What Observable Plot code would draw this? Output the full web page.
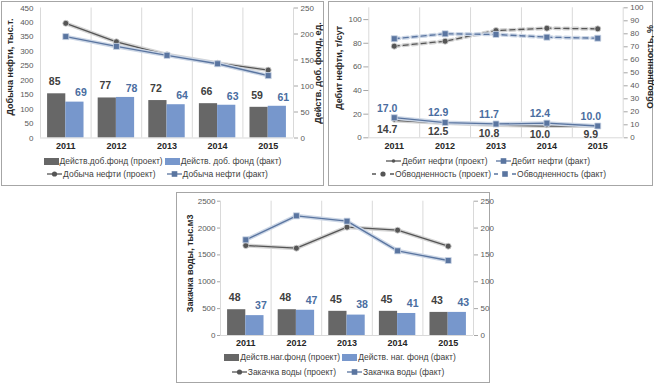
<!DOCTYPE html>
<html><head><meta charset="utf-8">
<script src="https://cdn.jsdelivr.net/npm/d3@7"></script>
<script src="https://cdn.jsdelivr.net/npm/@observablehq/plot@0.6"></script>
<style>
body{margin:0;background:#fff;font-family:"Liberation Sans",Arial,sans-serif;}
#root{position:relative;width:654px;height:385px;overflow:hidden;background:#fff}
.frame{position:absolute;border:1px solid #a6a6a6;box-sizing:border-box;}
.legend{position:absolute;display:flex;justify-content:center;align-items:center;font-size:8.5px;color:#404040;white-space:nowrap;height:10px;line-height:10px}
.legend .it{display:flex;align-items:center}
.legend svg{display:block}
</style></head>
<body><div id="root"></div>
<script>
// ---------- data ----------
const years = [2011, 2012, 2013, 2014, 2015];
// chart 1
const fundPlan1 = [85, 77, 72, 66, 59];
const fundFact1 = [69, 78, 64, 63, 61];
const oilPlan = [397, 333, 288, 259, 235];
const oilFact = [351, 317, 286, 257, 216];
const leftTicks1 = [0, 50, 100, 150, 200, 250, 300, 350, 400, 450];
const rightTicks1 = [0, 50, 100, 150, 200, 250];
// chart 2
const ratePlan = [14.7, 12.5, 10.8, 10.0, 9.9];
const rateFact = [17.0, 12.9, 11.7, 12.4, 10.0];
const cutPlan = [70.5, 74.3, 82.5, 84.3, 83.8];
const cutFact = [76.2, 80.0, 79.5, 77.4, 76.6];
const leftTicks2 = [0, 20, 40, 60, 80, 100];
const rightTicks2 = [0, 10, 20, 30, 40, 50, 60, 70, 80, 90, 100];
// chart 3
const fundPlan3 = [48, 48, 45, 45, 43];
const fundFact3 = [37, 47, 38, 41, 43];
const injPlan = [1675, 1626, 2017, 1961, 1663];
const injFact = [1781, 2228, 2128, 1576, 1396];
const leftTicks3 = [0, 500, 1000, 1500, 2000, 2500];
const rightTicks3 = [0, 50, 100, 150, 200, 250];

// ---------- style ----------
const C = {
  barPlan: "#676767", barFact: "#7797cc",
  linePlan: "#555555", lineFact: "#5a75a0",
  haloPlan: "#d4d4d4", haloFact: "#cdd7e6",
  lblPlan: "#404040", lblFact: "#4a6da0",
  grid: "#d9d9d9", axis: "#a6a6a6", tick: "#595959", title: "#262626"
};
const FONT = "Liberation Sans, Arial, sans-serif";
const BW = 0.36; // bar width in years
const root = document.getElementById("root");

function place(el, left, top, parent = root) {
  el.style.position = "absolute";
  el.style.left = left + "px";
  el.style.top = top + "px";
  el.style.maxWidth = "none";
  el.style.overflow = "visible";
  parent.appendChild(el);
}
function frame(l, t, w, h) {
  const d = document.createElement("div");
  d.className = "frame";
  Object.assign(d.style, {left: l + "px", top: t + "px", width: w + "px", height: h + "px"});
  root.appendChild(d);
}
function grid(extentLast) {
  return Plot.ruleX(years.map(y => y - 0.5).concat(extentLast), {stroke: C.grid, strokeWidth: 1});
}
function xAxis(pad) {
  return Plot.axisX(years, {anchor: "bottom", tickSize: 0, tickPadding: pad, tickFormat: d => String(d),
    fontWeight: "bold", fontSize: 9, fill: C.title, label: null});
}
function leftAxis(ticks, size) {
  return Plot.axisY(ticks, {anchor: "left", tickSize: size, tickPadding: size ? 2 : 7, fontSize: 8,
    fill: C.tick, stroke: C.axis, label: null, tickFormat: d => String(d)});
}
function rightAxis(ticks, k) {
  return Plot.axisY(ticks.map(v => v * k), {anchor: "right", tickSize: 4, tickPadding: 3, fontSize: 8,
    fill: C.tick, stroke: C.axis, label: null, tickFormat: d => String(Math.round(d / k))});
}
function yTitle(text, anchor, dx, dy) {
  return Plot.text([text], {frameAnchor: anchor, textAnchor: "middle", lineAnchor: "middle", rotate: -90, dx, dy,
    fontWeight: "bold", fontSize: 9, fill: C.title});
}
function lineSet(rows, key, stroke, halo, symbol, r, dash) {
  const o = {x: "year", y: key};
  return [
    Plot.line(rows, {...o, stroke: halo, strokeWidth: 4, strokeDasharray: dash}),
    Plot.line(rows, {...o, stroke, strokeWidth: 1.3, strokeDasharray: dash}),
    Plot.dot(rows, {...o, symbol, r, fill: stroke, stroke: halo, strokeWidth: 0.8})
  ];
}
function barSet(rows, planKey, factKey, k, dyP, dyF) {
  return [
    Plot.rectY(rows, {x1: d => d.year - BW, x2: "year", y1: 0, y2: d => d[planKey] * k, fill: C.barPlan}),
    Plot.rectY(rows, {x1: "year", x2: d => d.year + BW, y1: 0, y2: d => d[factKey] * k, fill: C.barFact}),
    Plot.text(rows, {x: d => d.year - BW / 2, y: d => d[planKey] * k, text: d => String(d[planKey]),
      dy: dyP, dx: -2, fontWeight: "bold", fontSize: 10.5, fill: C.lblPlan}),
    Plot.text(rows, {x: d => d.year + BW / 2, y: d => d[factKey] * k, text: d => String(d[factKey]),
      dy: dyF, dx: 6, fontWeight: "bold", fontSize: 10.5, fill: C.lblFact})
  ];
}
const baseStyle = {fontFamily: FONT, background: "transparent", overflow: "visible", color: C.tick};

// legend helpers
function swRect(color) {
  return `<svg width="15" height="7"><rect width="15" height="7" fill="${color}"/></svg>`;
}
function swLine(color, symbol, dashed) {
  const w = dashed ? 22 : 15;
  const ln = `<line x1="0" x2="${w}" y1="4" y2="4" stroke="${color}" stroke-width="1.3" ${dashed ? 'stroke-dasharray="4,5"' : ""}/>`;
  const m = symbol === "circle"
    ? `<circle cx="${w / 2}" cy="4" r="2.6" fill="${color}"/>`
    : symbol === "dotsmall" ? `<circle cx="${w / 2}" cy="4" r="1.8" fill="${color}"/>`
    : `<rect x="${w / 2 - 2.8}" y="1.2" width="5.6" height="5.6" fill="${color}"/>`;
  return `<svg width="${w}" height="8">${ln}${m}</svg>`;
}
function legendRow(items, left, width, cy, gap) {
  const d = document.createElement("div");
  d.className = "legend";
  Object.assign(d.style, {left: left + "px", width: width + "px", top: (cy - 5) + "px", gap: gap + "px"});
  d.innerHTML = items.map(([sw, label]) => `<div class="it">${sw}<span style="margin-left:1px">${label}</span></div>`).join("");
  root.appendChild(d);
}

// ---------- chart 1 ----------
{
  const k = 450 / 250;
  const rows = years.map((year, i) => ({year, plan: fundPlan1[i], fact: fundFact1[i], oilPlan: oilPlan[i], oilFact: oilFact[i]}));
  frame(1, 1, 323, 185);
  const svg = Plot.plot({
    width: 324, height: 156,
    marginLeft: 40, marginRight: 31, marginTop: 7.5, marginBottom: 18.5,
    x: {domain: [2010.5, 2015.5]},
    y: {domain: [0, 450]},
    style: baseStyle,
    marks: [
      grid(2015.5),
      ...barSet(rows, "plan", "fact", k, -12, -9),
      ...lineSet(rows, "oilPlan", C.linePlan, C.haloPlan, "circle", 3, null),
      ...lineSet(rows, "oilFact", C.lineFact, C.haloFact, "square", 3.4, null),
      Plot.ruleY([0], {stroke: C.grid}),
      leftAxis(leftTicks1, 0),
      rightAxis(rightTicks1, k),
      xAxis(5),
      yTitle("Добыча нефти, тыс.т.", "left", -30, -6),
      yTitle("Действ. доб. фонд, ед.", "right", 25, 0)
    ]
  });
  place(svg, 0, 0);
  legendRow([[swRect(C.barPlan), "Действ.доб.фонд (проект)"], [swRect(C.barFact), "Действ. доб. фонд (факт)"]], 1, 323, 161, 2);
  legendRow([[swLine(C.linePlan, "circle"), "Добыча нефти (проект)"], [swLine(C.lineFact, "square"), "Добыча нефти (факт)"]], 1, 313, 174, 11);
}

// ---------- chart 2 ----------
{
  const k = 110 / 100;
  const rows = years.map((year, i) => ({year, rp: ratePlan[i], rf: rateFact[i], cp: cutPlan[i] * k, cf: cutFact[i] * k}));
  frame(328, 1, 325, 185);
  const svg = Plot.plot({
    width: 326, height: 156,
    marginLeft: 40.3, marginRight: 31.3, marginTop: 7.3, marginBottom: 18.7,
    x: {domain: [2010.5, 2015.5]},
    y: {domain: [0, 110]},
    style: baseStyle,
    marks: [
      grid(2015.5),
      Plot.ruleY([0], {stroke: C.grid}),
      ...lineSet(rows, "cp", C.linePlan, C.haloPlan, "circle", 3, "5,4"),
      ...lineSet(rows, "cf", C.lineFact, C.haloFact, "square", 3.4, "5,4"),
      ...lineSet(rows, "rp", C.linePlan, C.haloPlan, "circle", 1.8, null),
      ...lineSet(rows, "rf", C.lineFact, C.haloFact, "square", 3.4, null),
      Plot.text(rows, {x: "year", y: "rf", text: d => d.rf.toFixed(1), dx: -7, dy: -9.5, fontWeight: "bold", fontSize: 10.5, fill: C.lblFact}),
      Plot.text(rows, {x: "year", y: "rp", text: d => d.rp.toFixed(1), dx: -7, dy: 9, fontWeight: "bold", fontSize: 10.5, fill: C.lblPlan}),
      leftAxis(leftTicks2, 5),
      rightAxis(rightTicks2, k),
      xAxis(5),
      yTitle("Дебит нефти, т/сут", "left", -30, -5),
      yTitle("Обводненность, %", "right", 27, -6)
    ]
  });
  place(svg, 328, 0);
  legendRow([[swLine(C.linePlan, "dotsmall"), "Дебит нефти (проект)"], [swLine(C.lineFact, "square"), "Дебит нефти (факт)"]], 330, 316, 161, 8);
  legendRow([[swLine(C.linePlan, "circle", true), "Обводненность (проект)"], [swLine(C.lineFact, "square", true), "Обводненность (факт)"]], 330, 318, 174, 3);
}

// ---------- chart 3 ----------
{
  const k = 2500 / 250;
  const rows = years.map((year, i) => ({year, plan: fundPlan3[i], fact: fundFact3[i], injPlan: injPlan[i], injFact: injFact[i]}));
  frame(176, 192, 314, 191);
  const svg = Plot.plot({
    width: 314, height: 158,
    marginLeft: 44, marginRight: 17, marginTop: 8.7, marginBottom: 15,
    x: {domain: [2010.5, 2015.5]},
    y: {domain: [0, 2500]},
    style: baseStyle,
    marks: [
      grid(2015.5),
      ...barSet(rows, "plan", "fact", k, -12, -10),
      ...lineSet(rows, "injPlan", C.linePlan, C.haloPlan, "circle", 3, null),
      ...lineSet(rows, "injFact", C.lineFact, C.haloFact, "square", 3.4, null),
      Plot.ruleY([0], {stroke: C.grid}),
      leftAxis(leftTicks3, 3),
      rightAxis(rightTicks3, k),
      xAxis(4),
      yTitle("Закачка воды, тыс.м3", "left", -30, -5)
    ]
  });
  place(svg, 176, 192);
  legendRow([[swRect(C.barPlan), "Действ.наг.фонд (проект)"], [swRect(C.barFact), "Действ. наг. фонд (факт)"]], 200, 280, 357, 2);
  legendRow([[swLine(C.linePlan, "circle"), "Закачка воды (проект)"], [swLine(C.lineFact, "square"), "Закачка воды (факт)"]], 200, 276, 372, 11);
}
</script></body></html>
